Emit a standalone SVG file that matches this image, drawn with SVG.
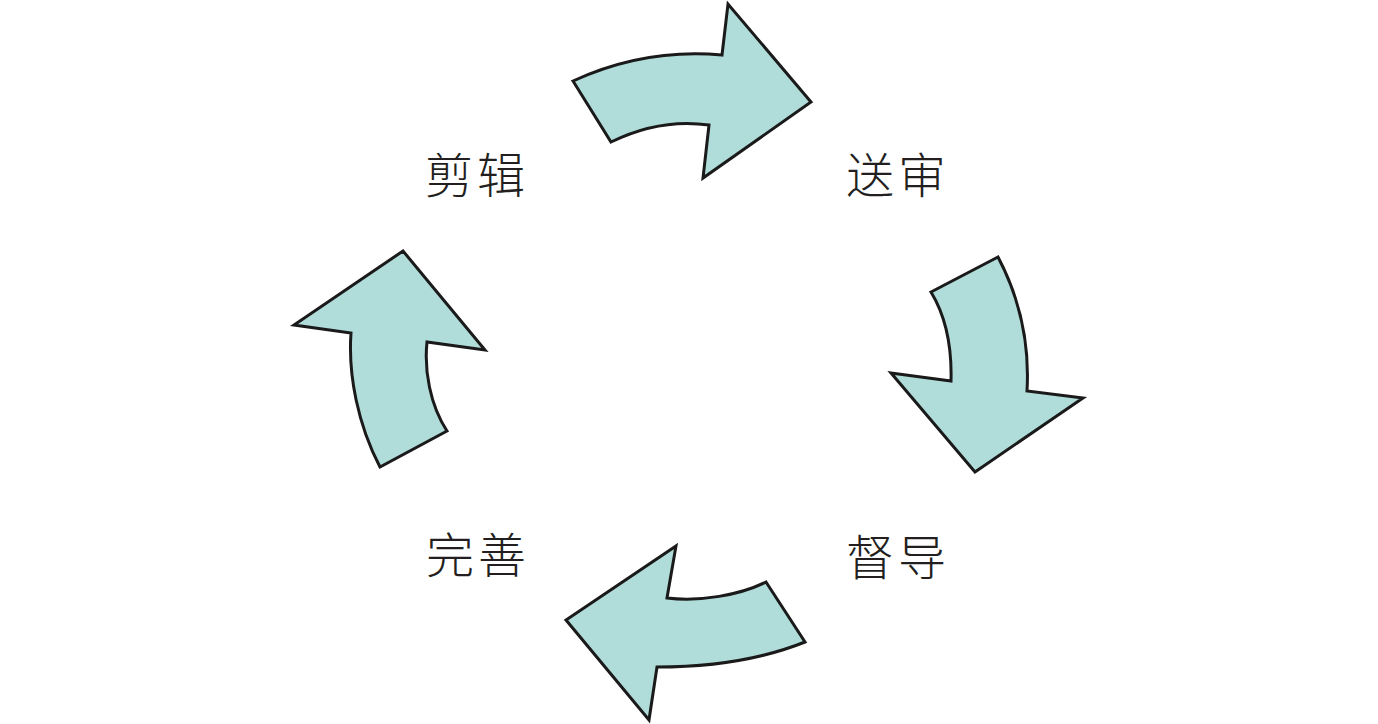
<svg xmlns="http://www.w3.org/2000/svg" width="1378" height="724" viewBox="0 0 1378 724">
<style>
.arrow{fill:#b0dcd9;stroke:#1a1a1a;stroke-width:3;stroke-linejoin:miter}
.lbl{font-family:"Noto Sans CJK SC","Noto Sans CJK JP",sans-serif;font-size:48px;font-weight:300;fill:#231f20;text-anchor:middle;letter-spacing:4px}
</style>
<rect width="1378" height="724" fill="#ffffff"/>
<g id="connectors">
<path id="arrow-top" class="arrow" d="M573,81 Q645,48 722,55 L728,4 L811,102 L703,178 L709,125 Q660,118 611,142 Z"/>
<path id="arrow-right" class="arrow" d="M998,257 L931,292 C945,315 952,345 951,381 L891,373 L975,472 L1083,398 L1027,391 C1030,340 1018,295 998,257 Z"/>
<path id="arrow-bottom" class="arrow" d="M766,582 L805,642 C760,660 710,667 657,667 L649,720 L566,620 L676,546 L667,598 C700,602 740,595 766,582 Z"/>
<path id="arrow-left" class="arrow" d="M403,251 L485,350 L427,342 C424,370 430,405 447,431 L380,467 C358,425 348,375 351,333 L294,325 Z"/>
</g>
<g id="node-jianji"><text class="lbl" x="477" y="193">剪辑</text></g>
<g id="node-songshen"><text class="lbl" x="898" y="193">送审</text></g>
<g id="node-dudao"><text class="lbl" x="898" y="575">督导</text></g>
<g id="node-wanshan"><text class="lbl" x="478" y="573">完善</text></g>
</svg>
